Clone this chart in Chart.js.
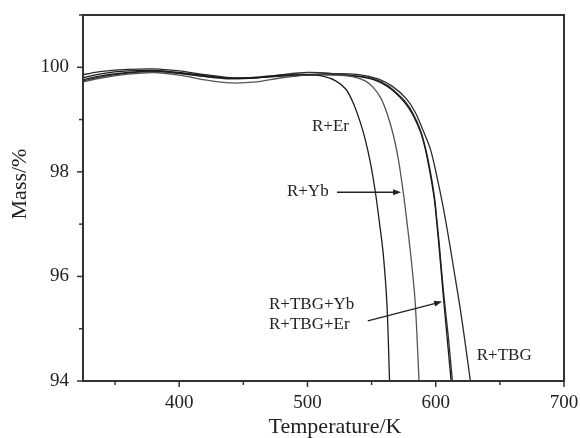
<!DOCTYPE html>
<html>
<head>
<meta charset="utf-8">
<script src="https://cdn.jsdelivr.net/npm/chart.js@4"></script>
<style>
  html, body { margin: 0; padding: 0; background: #fff; }
  #wrap { width: 580px; height: 438px; }
</style>
</head>
<body>
<div id="wrap"><canvas id="tgChart"></canvas></div>
<script>
// TG curves, temperature in K, mass in %
const erTemp = [325, 340, 360, 380, 400, 420, 440, 460, 480, 500, 512, 522, 530, 536, 541, 545, 549, 553, 556, 559, 562, 564];
const erMass = [99.76, 99.84, 99.90, 99.93, 99.89, 99.83, 99.79, 99.81, 99.85, 99.86, 99.83, 99.74, 99.58, 99.30, 98.96, 98.62, 98.18, 97.60, 97.05, 96.45, 95.45, 94.00];

const ybTemp = [325, 340, 360, 380, 400, 420, 440, 460, 480, 500, 520, 535, 545, 551, 557, 562, 567, 571, 575, 578, 581, 584, 587];
const ybMass = [99.72, 99.80, 99.87, 99.90, 99.85, 99.76, 99.70, 99.72, 99.80, 99.85, 99.85, 99.82, 99.74, 99.62, 99.42, 99.12, 98.70, 98.22, 97.55, 96.95, 96.30, 95.50, 94.00];

const tbgYbTemp = [325, 340, 360, 380, 400, 420, 440, 460, 480, 500, 520, 540, 552, 562, 570, 576, 582, 588, 592, 596, 599, 601, 603, 606, 609, 612];
const tbgYbMass = [99.80, 99.88, 99.93, 99.94, 99.90, 99.84, 99.79, 99.80, 99.84, 99.86, 99.86, 99.82, 99.76, 99.64, 99.48, 99.32, 99.10, 98.77, 98.42, 97.92, 97.46, 96.98, 96.45, 95.60, 94.80, 94.00];

const tbgErTemp = [325, 340, 360, 380, 400, 420, 440, 460, 480, 500, 520, 540, 552, 562, 570, 576, 582, 588, 592, 596, 599, 601, 603, 606, 610, 613];
const tbgErMass = [99.74, 99.82, 99.89, 99.92, 99.88, 99.82, 99.78, 99.80, 99.86, 99.90, 99.88, 99.83, 99.78, 99.66, 99.50, 99.35, 99.13, 98.80, 98.46, 97.98, 97.52, 97.05, 96.55, 95.72, 94.80, 94.00];

const tbgTemp = [325, 340, 360, 380, 400, 420, 440, 460, 480, 500, 520, 540, 555, 566, 577, 584, 590, 596, 601, 606, 611, 615, 619, 623, 627];
const tbgMass = [99.86, 99.92, 99.96, 99.97, 99.93, 99.86, 99.80, 99.80, 99.83, 99.85, 99.88, 99.86, 99.78, 99.64, 99.40, 99.14, 98.80, 98.42, 97.90, 97.30, 96.60, 96.00, 95.40, 94.72, 94.00];

const xTicks = [350, 400, 450, 500, 550, 600, 650, 700];
const yTicks = [95, 96, 97, 98, 99, 100, 101];

const serif = '"Liberation Serif", "Times New Roman", serif';

function pts(t, m) {
  return t.map((v, i) => ({ x: v, y: m[i] }));
}

function line(label, t, m, color) {
  return {
    label: label,
    data: pts(t, m),
    borderColor: color,
    borderWidth: 1.3,
    pointRadius: 0,
    fill: false,
    tension: 0.3
  };
}

// frame, tick marks, text labels, arrows and axis titles
const extras = {
  id: 'extras',
  afterDraw(chart) {
    const { ctx, chartArea: a, scales: { x, y } } = chart;
    ctx.save();
    ctx.strokeStyle = '#333';
    ctx.lineWidth = 2;
    ctx.strokeRect(a.left, a.top, a.right - a.left, a.bottom - a.top);

    ctx.lineWidth = 1.5;
    xTicks.forEach(v => {
      const px = x.getPixelForValue(v);
      const len = v % 100 === 0 ? 6 : 4;
      ctx.beginPath(); ctx.moveTo(px, a.bottom); ctx.lineTo(px, a.bottom + len); ctx.stroke();
    });
    yTicks.forEach(v => {
      const py = y.getPixelForValue(v);
      const len = v % 2 === 0 ? 6 : 4;
      ctx.beginPath(); ctx.moveTo(a.left, py); ctx.lineTo(a.left - len, py); ctx.stroke();
    });
    {
      const py = y.getPixelForValue(94);
      ctx.beginPath(); ctx.moveTo(a.left, py); ctx.lineTo(a.left - 6, py); ctx.stroke();
    }

    ctx.fillStyle = '#222';
    ctx.font = '17px ' + serif;
    ctx.textAlign = 'left';
    ctx.textBaseline = 'middle';
    const notes = [
      ['R+Er', 503.5, 98.87],
      ['R+Yb', 484, 97.63],
      ['R+TBG+Yb', 470, 95.46],
      ['R+TBG+Er', 470, 95.08],
      ['R+TBG', 632, 94.48]
    ];
    notes.forEach(n => ctx.fillText(n[0], x.getPixelForValue(n[1]), y.getPixelForValue(n[2])));

    const arrows = [
      [523, 97.61, 573, 97.61],
      [547, 95.15, 605, 95.52]
    ];
    ctx.strokeStyle = '#222';
    ctx.lineWidth = 1.3;
    arrows.forEach(r => {
      const x1 = x.getPixelForValue(r[0]), y1 = y.getPixelForValue(r[1]);
      const x2 = x.getPixelForValue(r[2]), y2 = y.getPixelForValue(r[3]);
      const ang = Math.atan2(y2 - y1, x2 - x1);
      ctx.beginPath(); ctx.moveTo(x1, y1); ctx.lineTo(x2 - 5 * Math.cos(ang), y2 - 5 * Math.sin(ang)); ctx.stroke();
      ctx.beginPath();
      ctx.moveTo(x2, y2);
      ctx.lineTo(x2 - 8 * Math.cos(ang) + 3 * Math.sin(ang), y2 - 8 * Math.sin(ang) - 3 * Math.cos(ang));
      ctx.lineTo(x2 - 8 * Math.cos(ang) - 3 * Math.sin(ang), y2 - 8 * Math.sin(ang) + 3 * Math.cos(ang));
      ctx.closePath();
      ctx.fill();
    });

    ctx.font = '22px ' + serif;
    ctx.textAlign = 'center';
    ctx.fillText('Temperature/K', 335, 427);
    ctx.translate(20, 184);
    ctx.rotate(-Math.PI / 2);
    ctx.fillText('Mass/%', 0, 0);
    ctx.restore();
  }
};

new Chart(document.getElementById('tgChart'), {
  type: 'line',
  data: {
    datasets: [
      line('R+Er', erTemp, erMass, '#1e1e1e'),
      line('R+Yb', ybTemp, ybMass, '#555'),
      line('R+TBG+Yb', tbgYbTemp, tbgYbMass, '#1a1a1a'),
      line('R+TBG+Er', tbgErTemp, tbgErMass, '#333'),
      line('R+TBG', tbgTemp, tbgMass, '#2a2a2a')
    ]
  },
  options: {
    responsive: true,
    maintainAspectRatio: false,
    animation: false,
    layout: { padding: { top: 15, right: 16, left: 0, bottom: 0 } },
    plugins: { legend: { display: false }, tooltip: { enabled: false } },
    scales: {
      x: {
        type: 'linear',
        min: 325,
        max: 700,
        grid: { display: true, drawOnChartArea: false, drawTicks: false },
        border: { display: false },
        ticks: {
          stepSize: 50,
          padding: 11,
          color: '#222',
          font: { family: serif, size: 19 },
          maxRotation: 0,
          autoSkip: false,
          callback: v => (v % 100 === 0 ? v : '')
        },
        afterFit: s => { s.height = 57; s.paddingLeft = 0; s.paddingRight = 0; }
      },
      y: {
        min: 94,
        max: 101,
        grid: { display: true, drawOnChartArea: false, drawTicks: false },
        border: { display: false },
        ticks: {
          stepSize: 1,
          padding: 14,
          color: '#222',
          font: { family: serif, size: 19 },
          callback: v => (v % 2 === 0 ? v : '')
        },
        afterFit: s => { s.width = 83; s.paddingTop = 0; s.paddingBottom = 0; }
      }
    }
  },
  plugins: [extras]
});
</script>
</body>
</html>
